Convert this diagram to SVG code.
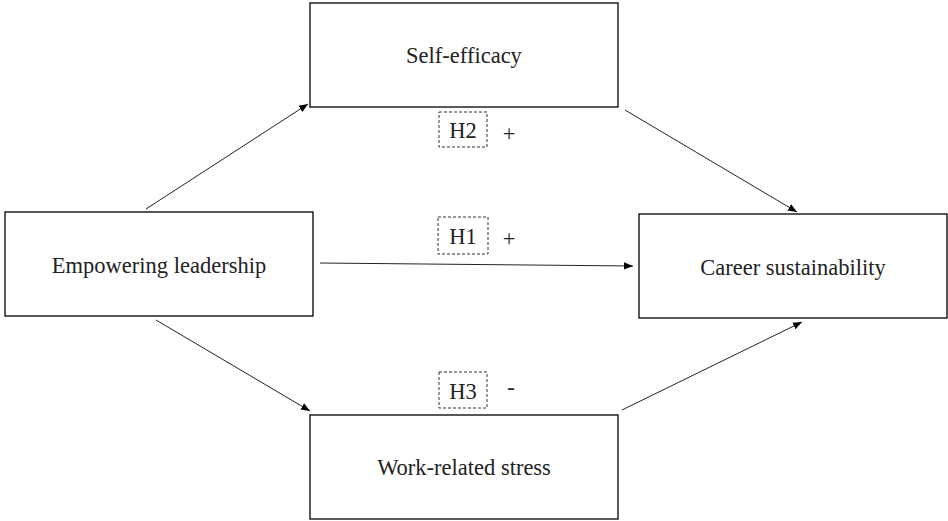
<svg xmlns="http://www.w3.org/2000/svg" width="948" height="521" viewBox="0 0 948 521">
<style>
.box{fill:#fff;stroke:#000;stroke-width:1.3}
.hb{fill:none;stroke:#333;stroke-width:1;stroke-dasharray:3 2}
text{font-family:"Liberation Serif","Times New Roman",serif;fill:#222;font-size:22.5px}
.c{text-anchor:middle}
.e{stroke:#222;stroke-width:1;fill:none;marker-end:url(#ah)}
</style>
<defs>
<marker id="ah" viewBox="0 0 10 10" refX="10" refY="5" markerWidth="9" markerHeight="9" markerUnits="userSpaceOnUse" orient="auto">
<path d="M0,1 L10,5 L0,9 z" fill="#000"/>
</marker>
</defs>
<rect width="948" height="521" fill="#fff"/>
<g id="connectors">
<line class="e" x1="146" y1="209" x2="308" y2="104"/>
<line class="e" x1="625" y1="110" x2="797" y2="212"/>
<line class="e" x1="320" y1="263" x2="633" y2="266"/>
<line class="e" x1="156" y1="320" x2="310" y2="411"/>
<line class="e" x1="622" y1="410" x2="802" y2="322"/>
</g>
<g id="self-efficacy">
<rect class="box" x="310" y="3" width="308" height="104"/>
<text class="c" x="464" y="63">Self-efficacy</text>
</g>
<g id="empowering-leadership">
<rect class="box" x="5" y="212" width="308" height="104"/>
<text class="c" x="159" y="273">Empowering leadership</text>
</g>
<g id="career-sustainability">
<rect class="box" x="639" y="214" width="308" height="104"/>
<text class="c" x="793" y="275">Career sustainability</text>
</g>
<g id="work-related-stress">
<rect class="box" x="310" y="415" width="308" height="104"/>
<text class="c" x="464" y="475">Work-related stress</text>
</g>
<g id="h2">
<rect class="hb" x="439" y="112" width="48" height="35"/>
<text class="c" x="463" y="138">H2</text>
<text class="c" x="509" y="141">+</text>
</g>
<g id="h1">
<rect class="hb" x="438" y="217" width="50" height="37"/>
<text class="c" x="463" y="244">H1</text>
<text class="c" x="509" y="246">+</text>
</g>
<g id="h3">
<rect class="hb" x="439" y="372" width="48" height="36"/>
<text class="c" x="463" y="399">H3</text>
<text class="c" x="511" y="395">-</text>
</g>
</svg>
